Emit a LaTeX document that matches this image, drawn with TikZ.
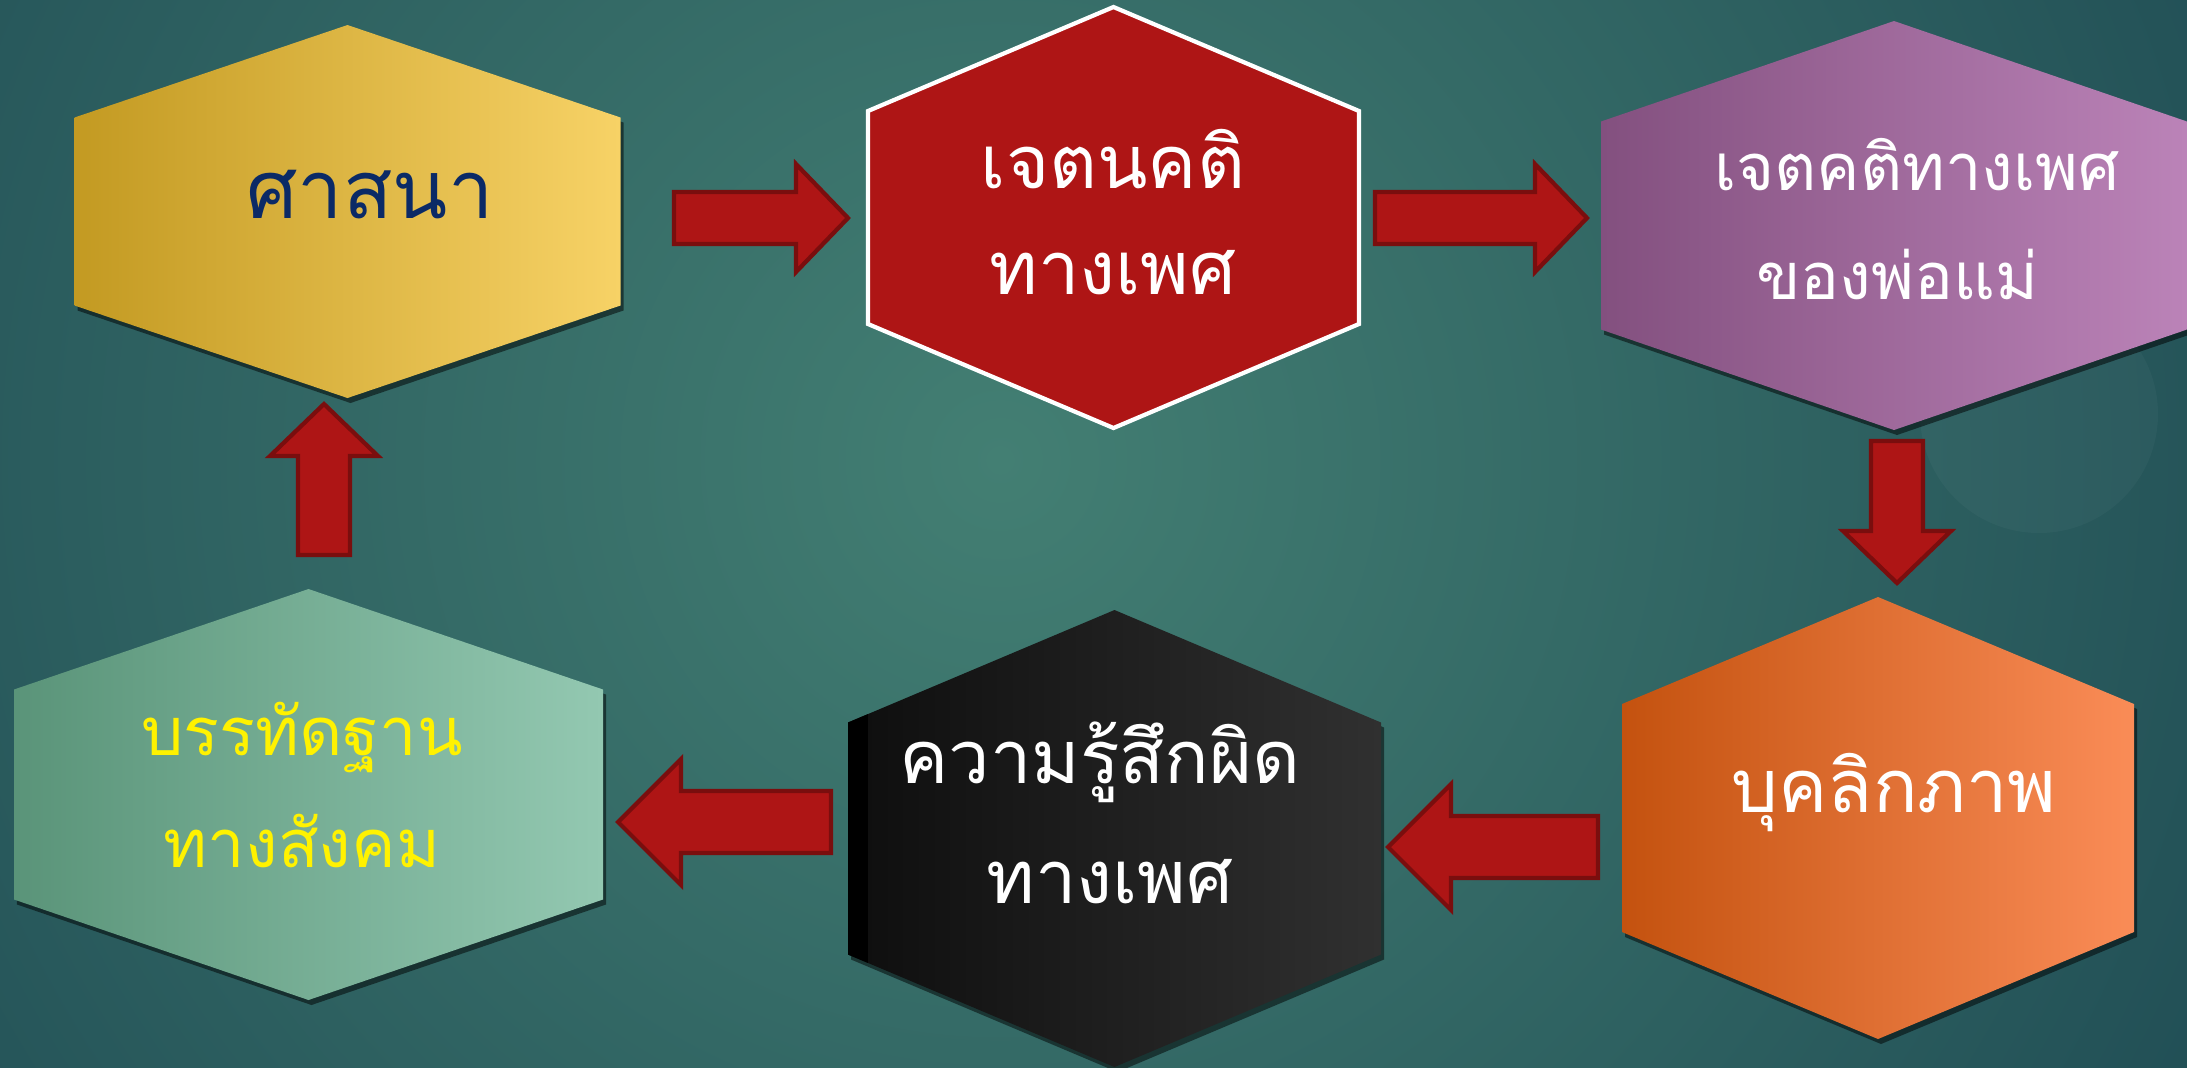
\documentclass[tikz,border=0pt]{standalone}
\usepackage{fontspec}
\newfontfamily\thaifont[Script=Thai]{Loma}
\usetikzlibrary{calc,shadows,positioning}

\definecolor{bgdark}{HTML}{163F4C}
\definecolor{bglight}{HTML}{437F73}
\definecolor{arrowred}{HTML}{AE1515}
\definecolor{arrowedge}{HTML}{7A0E0E}
\definecolor{textnavy}{HTML}{0B2A66}
\definecolor{goldL}{HTML}{C39A22}
\definecolor{goldR}{HTML}{F7D266}
\definecolor{purpleL}{HTML}{83507F}
\definecolor{purpleR}{HTML}{BB83B8}
\definecolor{orangeL}{HTML}{C4520F}
\definecolor{orangeR}{HTML}{FA8C57}
\definecolor{blackL}{HTML}{0E0E0E}
\definecolor{blackR}{HTML}{303030}
\definecolor{greenL}{HTML}{5A9479}
\definecolor{greenR}{HTML}{93C8B1}

\tikzstyle{hexshadow} = [drop shadow={shadow xshift=0.03cm, shadow yshift=-0.05cm, opacity=0.5, fill=black}]
\tikzstyle{yellowhex} = [left color=goldL, right color=goldR, hexshadow]
\tikzstyle{redhex} = [fill=arrowred, draw=white, line width=1.2pt, line join=miter]
\tikzstyle{purplehex} = [left color=purpleL, right color=purpleR, hexshadow]
\tikzstyle{orangehex} = [left color=orangeL, right color=orangeR, hexshadow]
\tikzstyle{blackhex} = [left color=blackL, right color=blackR, hexshadow]
\tikzstyle{greenhex} = [left color=greenL, right color=greenR, hexshadow]
\tikzstyle{hextext} = [font=\thaifont\fontsize{21}{30}\selectfont, align=center, text=white, inner sep=0pt]

\tikzset{
	arrowshaft/.store in=\arrshaft, arrowhead/.store in=\arrhead, headlen/.store in=\arrheadlen,
	arrowshaft=0.26cm, arrowhead=0.54cm, headlen=0.52cm,
	blockarrow/.style={draw=arrowedge, fill=arrowred, line width=1.2pt, line join=miter,
		to path={
			($(\tikztostart)!\arrshaft!90:(\tikztotarget)$)
			-- ($($(\tikztotarget)!\arrheadlen!(\tikztostart)$)!\arrshaft!-90:(\tikztostart)$)
			-- ($($(\tikztotarget)!\arrheadlen!(\tikztostart)$)!\arrhead!-90:(\tikztostart)$)
			-- (\tikztotarget)
			-- ($($(\tikztotarget)!\arrheadlen!(\tikztostart)$)!\arrhead!90:(\tikztostart)$)
			-- ($($(\tikztotarget)!\arrheadlen!(\tikztostart)$)!\arrshaft!90:(\tikztostart)$)
			-- ($(\tikztostart)!\arrshaft!-90:(\tikztotarget)$)
			-- cycle}},
	bigarrow/.style={blockarrow, arrowshaft=0.31cm, arrowhead=0.63cm, headlen=0.63cm}
}

% #1 style, #2 centre, #3 half width, #4 half height, #5 half side
\newcommand{\hexagon}[5]{\path[#1] ($(#2)+(0,#4)$) -- ($(#2)+(-#3,#5)$) -- ($(#2)+(-#3,-#5)$) -- ($(#2)+(0,-#4)$) -- ($(#2)+(#3,-#5)$) -- ($(#2)+(#3,#5)$) -- cycle;}

\begin{document}
\begin{tikzpicture}
	\useasboundingbox (0,0) rectangle (21.87,-10.67);
	% Background
	\fill[bgdark] (0,0) rectangle (21.87,-10.67);
	\begin{scope}
		\clip (0,0) rectangle (21.87,-10.67);
		\shade[inner color=bglight, outer color=bgdark] (10.0,-4.6) circle (18);
		\fill[white, opacity=0.03] (20.39,-4.14) circle (1.19);
	\end{scope}
	% Place hexagons
	\coordinate (religion) at (3.475,-2.115);
	\coordinate (attitude) at (11.135,-2.175);
	\coordinate (parents) at (18.94,-2.255);
	\coordinate (personality) at (18.78,-8.18);
	\coordinate (guilt) at (11.145,-8.385);
	\coordinate (norms) at (3.085,-7.945);
	\hexagon{yellowhex}{religion}{2.73}{1.865}{0.94}
	\hexagon{redhex}{attitude}{2.455}{2.105}{1.065}
	\hexagon{purplehex}{parents}{2.93}{2.045}{1.04}
	\hexagon{orangehex}{personality}{2.56}{2.21}{1.14}
	\hexagon{blackhex}{guilt}{2.665}{2.285}{1.16}
	\begin{scope}
		\hexagon{clip}{guilt}{2.665}{2.285}{1.16}
		\fill[black] (8.4,-5) rectangle (8.68,-11);
	\end{scope}
	\hexagon{greenhex}{norms}{2.945}{2.055}{1.05}
	% Place nodes
	\node[hextext, text=textnavy, font=\thaifont\fontsize{23}{30}\selectfont] (religiontext) at (3.70,-1.95) {ศาสนา};
	\node[hextext] (attitudetext) at (11.13,-2.12) {เจตนคติ\\ทางเพศ};
	\node[hextext, font=\thaifont\fontsize{18.5}{31}\selectfont] (parentstext) at (18.97,-2.19) {\hspace*{0.4cm}เจตคติทางเพศ\\ของพ่อแม่};
	\node[hextext] (personalitytext) at (18.94,-7.92) {บุคลิกภาพ};
	\node[hextext, font=\thaifont\fontsize{21}{34}\selectfont] (guilttext) at (11.10,-8.13) {ความรู้สึกผิด\hspace*{0.2cm}\\ทางเพศ};
	\node[hextext, text=yellow, font=\thaifont\fontsize{19}{32}\selectfont] (normstext) at (3.02,-7.85) {บรรทัดฐาน\\ทางสังคม};
	% Draw edges
	\coordinate (a1s) at (6.74,-2.18);
	\coordinate (a1e) at (8.48,-2.18);
	\coordinate (a2s) at (13.75,-2.18);
	\coordinate (a2e) at (15.87,-2.18);
	\coordinate (a3s) at (18.97,-4.41);
	\coordinate (a3e) at (18.97,-5.83);
	\coordinate (a4s) at (15.98,-8.47);
	\coordinate (a4e) at (13.88,-8.47);
	\coordinate (a5s) at (8.31,-8.22);
	\coordinate (a5e) at (6.18,-8.22);
	\coordinate (a6s) at (3.24,-5.55);
	\coordinate (a6e) at (3.24,-4.04);
	\draw[blockarrow] (a1s) to (a1e);
	\draw[blockarrow] (a2s) to (a2e);
	\draw[blockarrow] (a3s) to (a3e);
	\draw[bigarrow] (a4s) to (a4e);
	\draw[bigarrow] (a5s) to (a5e);
	\draw[blockarrow] (a6s) to (a6e);
\end{tikzpicture}
\end{document}
